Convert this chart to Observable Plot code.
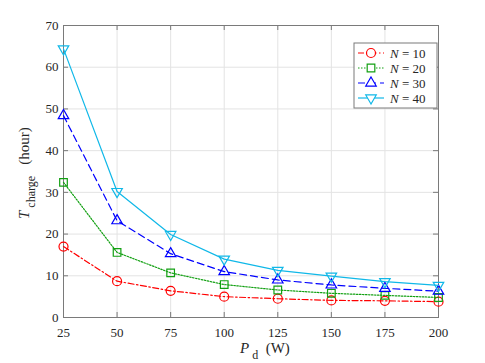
<!DOCTYPE html>
<html><head><meta charset="utf-8">
<script src="https://cdn.jsdelivr.net/npm/d3@7"></script>
<script src="https://cdn.jsdelivr.net/npm/@observablehq/plot@0.6"></script>
<style>body{margin:0;background:#fff}</style>
</head><body><div id="chart"></div>
<script>
const powers = [25, 50, 75, 100, 125, 150, 175, 200];
const yTicks = [0, 10, 20, 30, 40, 50, 60, 70];
const seriesNames = ["N = 10", "N = 20", "N = 30", "N = 40"];
const t10 = [17.0, 8.7, 6.4, 5.0, 4.5, 4.1, 4.0, 3.8];
const t20 = [32.4, 15.6, 10.7, 7.9, 6.6, 5.8, 5.3, 4.8];
const t30 = [48.4, 23.2, 15.3, 11.0, 9.0, 7.8, 7.0, 6.3];
const t40 = [64.4, 30.2, 19.9, 14.0, 11.3, 9.9, 8.6, 7.7];
const colors = ["#ff0000", "#12a012", "#0000ff", "#10b8e8"];
const dashes = ["6,2.5,1.5,2.5", "1.5,1.5", "7,4", null];
const symbols = ["circle", "square", "triangle", "triangle"];
const rotations = [0, 0, 0, 180];
const radii = [4.5, 4.3, 3.9, 3.9];
const allSeries = [t10, t20, t30, t40];

const rows = [];
allSeries.forEach((s, i) => s.forEach((v, j) => rows.push({p: powers[j], t: v, n: seriesNames[i], idx: i})));

const W = 485, H = 363;
const mL = 63, mR = 47, mT = 25, mB = 46;
const axisColor = "#7a7a7a";
const font = "'Liberation Serif', 'DejaVu Serif', serif";

const pxX = (200 - 25) / (W - mL - mR);
const pxY = 70 / (H - mT - mB);
const tl = 5;

const marks = [
  Plot.gridX(powers, {stroke: "#e3e3e3", strokeOpacity: 1}),
  Plot.gridY(yTicks, {stroke: "#e3e3e3", strokeOpacity: 1}),
  Plot.ruleX(powers, {x: d => d, y1: 0, y2: tl * pxY, stroke: axisColor}),
  Plot.ruleX(powers, {x: d => d, y1: 70, y2: 70 - tl * pxY, stroke: axisColor}),
  Plot.ruleY(yTicks, {y: d => d, x1: 25, x2: 25 + tl * pxX, stroke: axisColor}),
  Plot.ruleY(yTicks, {y: d => d, x1: 200, x2: 200 - tl * pxX, stroke: axisColor}),
  Plot.axisX(powers, {tickSize: 0, tickPadding: 10, fontSize: 13, fill: "#262626"}),
  Plot.axisY(yTicks, {tickSize: 0, tickPadding: 5, fontSize: 13, fill: "#262626"}),
  Plot.frame({stroke: axisColor})
];
allSeries.forEach((s, i) => {
  const data = rows.filter(r => r.idx === i);
  marks.push(Plot.line(data, {x: "p", y: "t", stroke: colors[i], strokeWidth: 1.2, strokeDasharray: dashes[i]}));
  marks.push(Plot.dot(data, {x: "p", y: "t", stroke: colors[i], fill: "none", strokeWidth: 1.2, symbol: symbols[i], rotate: rotations[i], r: radii[i]}));
});

const plot = Plot.plot({
  width: W, height: H,
  marginLeft: mL, marginRight: mR, marginTop: mT, marginBottom: mB,
  style: {fontFamily: font, background: "#fff"},
  x: {domain: [25, 200], label: null},
  y: {domain: [0, 70], label: null},
  marks
});
document.getElementById("chart").appendChild(plot);

const svg = d3.select(plot);
// x label
const xl = svg.append("text").attr("x", 240).attr("y", 353).attr("text-anchor", "start")
  .style("font-family", font).style("font-size", "15px").attr("fill", "#262626");
xl.append("tspan").text("P").style("font-style", "italic");
xl.append("tspan").text("\u00a0d").attr("dy", 6).style("font-size", "12px");
xl.append("tspan").text("\u00a0\u00a0(W)").attr("dy", -6);
// y label
const yl = svg.append("text").attr("transform", "translate(29,219) rotate(-90)").attr("text-anchor", "start")
  .style("font-family", font).style("font-size", "15px").attr("fill", "#262626");
yl.append("tspan").text("T").style("font-style", "italic");
yl.append("tspan").text("\u00a0charge").attr("dy", 6).style("font-size", "12px");
yl.append("tspan").text("\u00a0\u00a0\u00a0(hour)").attr("dy", -6);

// legend
const lg = svg.append("g");
const lx = 354, ly = 43, lw = 83, lh = 65;
lg.append("rect").attr("x", lx).attr("y", ly).attr("width", lw).attr("height", lh)
  .attr("fill", "#fff").attr("stroke", axisColor);
const symMap = {circle: d3.symbolCircle, square: d3.symbolSquare, triangle: d3.symbolTriangle};
seriesNames.forEach((name, i) => {
  const cy = ly + 10 + i * 15;
  const line = lg.append("line").attr("x1", lx + 4).attr("x2", lx + 30).attr("y1", cy).attr("y2", cy)
    .attr("stroke", colors[i]).attr("stroke-width", 1.2);
  if (dashes[i]) line.attr("stroke-dasharray", dashes[i]);
  const r = radii[i];
  lg.append("path").attr("d", d3.symbol(symMap[symbols[i]], Math.PI * r * r)())
    .attr("transform", `translate(${lx + 17},${cy}) rotate(${rotations[i]})`)
    .attr("fill", "#fff").attr("stroke", colors[i]).attr("stroke-width", 1.2);
  const t = lg.append("text").attr("x", lx + 36).attr("y", cy + 4.5).attr("text-anchor", "start")
    .style("font-family", font).style("font-size", "13px").attr("fill", "#262626");
  const [a, b] = name.split(" = ");
  t.append("tspan").text(a).style("font-style", "italic");
  t.append("tspan").text(" = " + b);
});
</script>
</body></html>
